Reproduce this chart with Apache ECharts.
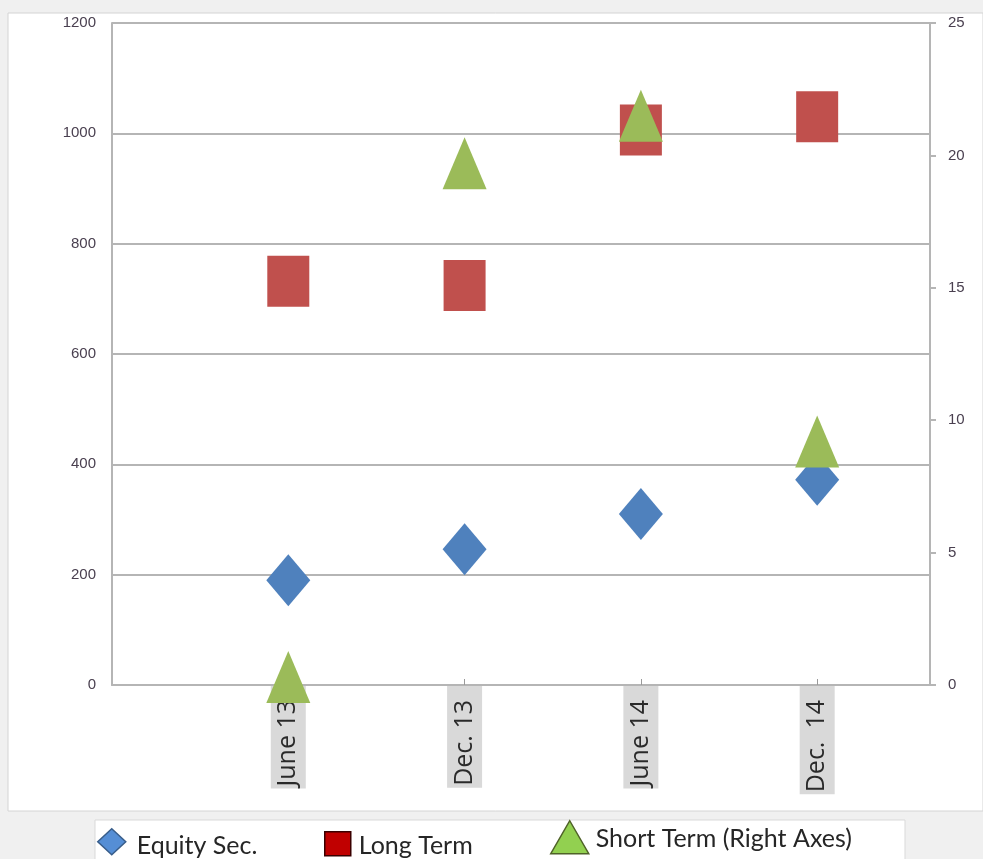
<!DOCTYPE html>
<html>
<head>
<meta charset="utf-8">
<script src="https://cdn.jsdelivr.net/npm/echarts@6/dist/echarts.min.js"></script>
<style>
  html, body { margin: 0; padding: 0; background: #f0f0f0; }
  #chart { width: 983px; height: 859px; }
</style>
</head>
<body>
<div id="chart"></div>
<script>
// Reporting periods and holdings by type
const categories = ['June 13', 'Dec. 13', 'June 14', 'Dec.  14'];
const equitySec = [190, 246, 310, 372];      // left axis
const longTerm = [732, 724, 1006, 1030];     // left axis
const shortTerm = [0.3, 19.7, 21.5, 9.2];    // right axis
const leftAxisRange = [0, 1200, 200];
const rightAxisRange = [0, 25, 5];

// periods sit at positions 1..n on a numeric x scale
const positions = categories.map((c, i) => i + 1);
const pairs = vals => vals.map((v, i) => [positions[i], v]);

const gridColor = '#b5b5b5';
const chart = echarts.init(document.getElementById('chart'), null, { renderer: 'canvas' });

// legend entry text, nudged down a little against its icon
const legendText = (dy, dx) => ({
  fontFamily: 'Lato', fontSize: 25, color: '#262626',
  rich: { t: { fontFamily: 'Lato', fontSize: 25, color: '#262626', padding: [dy, 0, 0, dx] } }
});

chart.setOption({
  backgroundColor: '#f0f0f0',
  animation: false,
  graphic: [
    { type: 'rect', z: -10, shape: { x: 8, y: 13, width: 975, height: 798 },
      style: { fill: '#ffffff', stroke: '#d4d4d4', lineWidth: 1 } },
    { type: 'rect', z: -10, shape: { x: 95, y: 820, width: 810, height: 40 },
      style: { fill: '#ffffff', stroke: '#d9d9d9', lineWidth: 1 } }
  ],
  grid: { left: 112, right: 53, top: 23, bottom: 174, containLabel: false },
  xAxis: {
    type: 'value',
    min: 0,
    max: 4.64,
    interval: 1,
    splitLine: { show: false },
    axisLine: { show: true, onZero: false, lineStyle: { color: gridColor, width: 2 } },
    axisTick: { show: true, inside: true, length: 6, customValues: positions,
                lineStyle: { color: '#9a9a9a', width: 1 } },
    axisLabel: {
      customValues: positions,
      formatter: v => categories[Math.round(v) - 1] || '',
      rotate: 90,
      margin: 1,
      fontFamily: 'Open Sans',
      fontSize: 25,
      color: '#2a2a2a',
      backgroundColor: '#d9d9d9',
      lineHeight: 27,
      padding: [5, 14, 3, 2]
    }
  },
  yAxis: [
    {
      type: 'value',
      position: 'left',
      min: leftAxisRange[0],
      max: leftAxisRange[1],
      interval: leftAxisRange[2],
      axisLine: { show: true, lineStyle: { color: gridColor, width: 2 } },
      axisTick: { show: false },
      splitLine: { show: true, lineStyle: { color: gridColor, width: 2 } },
      axisLabel: { margin: 16, fontFamily: 'Liberation Sans', fontSize: 15, color: '#4a4050',
                   formatter: v => String(v) }
    },
    {
      type: 'value',
      position: 'right',
      min: rightAxisRange[0],
      max: rightAxisRange[1],
      interval: rightAxisRange[2],
      axisLine: { show: true, lineStyle: { color: gridColor, width: 2 } },
      axisTick: { show: true, length: 6, lineStyle: { color: gridColor, width: 2 } },
      splitLine: { show: false },
      axisLabel: { margin: 18, fontFamily: 'Liberation Sans', fontSize: 15, color: '#4a4050',
                   formatter: v => String(v) }
    }
  ],
  legend: [
    {
      left: 97, top: 828, padding: 0, itemWidth: 28, itemHeight: 26, itemGap: 0,
      formatter: '{t|{name}}', textStyle: legendText(8, 6),
      data: [{ name: 'Equity Sec.', icon: 'diamond',
               itemStyle: { color: '#558ed5', borderColor: '#385d8a', borderWidth: 1.5 } }]
    },
    {
      left: 324, top: 831, padding: 0, itemWidth: 26, itemHeight: 24, itemGap: 0,
      formatter: '{t|{name}}', textStyle: legendText(5, 3),
      data: [{ name: 'Long Term', icon: 'rect',
               itemStyle: { color: '#c00000', borderColor: '#3a0000', borderWidth: 1.5 } }]
    },
    {
      left: 550, top: 820, padding: 0, itemWidth: 38, itemHeight: 33, itemGap: 0,
      formatter: '{t|{name}}', textStyle: legendText(3, 2),
      data: [{ name: 'Short Term (Right Axes)', icon: 'triangle',
               itemStyle: { color: '#92d050', borderColor: '#4f6228', borderWidth: 1.5 } }]
    }
  ],
  series: [
    {
      name: 'Equity Sec.',
      type: 'scatter',
      yAxisIndex: 0,
      symbol: 'diamond',
      symbolSize: [44, 52],
      itemStyle: { color: '#4f81bd', opacity: 1 },
      data: pairs(equitySec)
    },
    {
      name: 'Long Term',
      type: 'scatter',
      yAxisIndex: 0,
      symbol: 'rect',
      symbolSize: [42, 51],
      itemStyle: { color: '#c0504d', opacity: 1 },
      data: pairs(longTerm)
    },
    {
      name: 'Short Term (Right Axes)',
      type: 'scatter',
      yAxisIndex: 1,
      symbol: 'triangle',
      symbolSize: [44, 52],
      itemStyle: { color: '#9bbb59', opacity: 1 },
      data: pairs(shortTerm)
    }
  ]
});
</script>
</body>
</html>
